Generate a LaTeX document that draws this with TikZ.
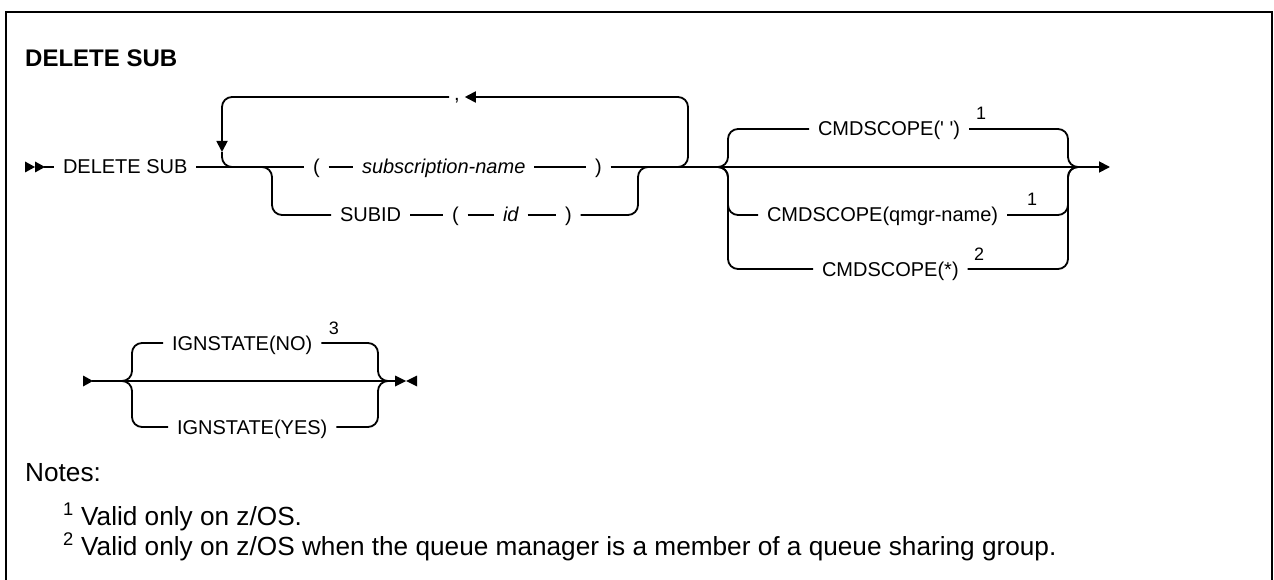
\documentclass[tikz,border=0pt]{standalone}
\usepackage{fontspec}
\setmainfont{Liberation Sans}
\usetikzlibrary{arrows.meta}

\begin{document}
\begin{tikzpicture}[
  x=1pt, y=-1pt,
  rail/.style={line width=1.8pt, rounded corners=10pt},
  arr/.style={-{Triangle[length=11pt, width=11pt]}},
  tok/.style={anchor=west, inner xsep=0pt, inner ysep=0pt, outer xsep=9pt,
    text height=14pt, text depth=0pt, font=\fontsize{20}{24}\selectfont},
  ital/.style={tok, font=\fontsize{20}{24}\selectfont\itshape},
  fnum/.style={inner sep=0pt, font=\fontsize{18}{20}\selectfont},
  notetxt/.style={anchor=base west, inner sep=0pt, font=\fontsize{26.2}{30}\selectfont},
  endtri/.style={fill=black},
]

\useasboundingbox (0,0) rectangle (1274,580);

% 外框（下边被截掉）
\draw[line width=2pt] (6,580) -- (6,12) -- (1272,12) -- (1272,580);

% 标题
\node[anchor=base west, inner sep=0pt, font=\fontsize{24}{28}\selectfont\bfseries]
  (title) at (25,67) {DELETE SUB};

% ---------- 第一张语法图 ----------
% 起点 ▶▶
\fill[endtri] (25,161.5) -- (35,167) -- (25,172.5) -- cycle;
\fill[endtri] (35,161.5) -- (45,167) -- (35,172.5) -- cycle;
\coordinate (st1) at (44,167);

% 主线上的记号
\node[tok]  (delsub) at (54,167)  {DELETE SUB};
\node[tok]  (lp1)    at (304,167) {(};
\node[ital] (sname)  at (353,167) {subscription-name};
\node[tok]  (rp1)    at (586,167) {)};
\coordinate (fin) at (1110,167);

\draw[rail] (st1) -- (delsub);
\draw[rail] (delsub) -- (lp1);
\draw[rail] (lp1) -- (sname);
\draw[rail] (sname) -- (rp1);
\draw[rail, arr] (rp1) -- (fin);

% 重复回路（逗号分隔）
\coordinate (loopL) at (222,167);
\coordinate (loopA) at (222,152);   % 向下箭头的尖
\coordinate (loopR) at (688,167);
\node[tok, anchor=center, outer xsep=5pt, text height=8pt] (comma) at (457,97) {,};

\draw[rail, arr] ([xshift=-20pt]loopR) -- (loopR) |- (comma);
\draw[rail, arr] (comma) -| (loopA);
\draw[rail] (loopA) -- (loopL) -- ([xshift=20pt]loopL);

% SUBID 分支
\coordinate (subL) at (272,167);
\coordinate (subR) at (638,167);
\node[tok]  (subid) at (331,215) {SUBID};
\node[tok]  (lp2)   at (443,215) {(};
\node[ital] (idn)   at (494,215) {id};
\node[tok]  (rp2)   at (556,215) {)};

\draw[rail] ([xshift=-20pt]subL) -- (subL) |- (subid);
\draw[rail] (subid) -- (lp2);
\draw[rail] (lp2) -- (idn);
\draw[rail] (idn) -- (rp2);
\draw[rail] (rp2) -| (subR) -- ([xshift=20pt]subR);

% CMDSCOPE 选项
\coordinate (cmdL) at (728,167);
\coordinate (cmdR) at (1068,167);
\node[tok] (cs1) at (809,129) {CMDSCOPE(\textquotesingle\ \textquotesingle)};
\node[tok] (cs2) at (758,215) {CMDSCOPE(qmgr-name)};
\node[tok] (cs3) at (813,269) {CMDSCOPE(*)};

\draw[rail] ([xshift=-20pt]cmdL) -- (cmdL) |- (cs1);
\draw[rail] ([xshift=-20pt]cmdL) -- (cmdL) |- (cs2);
\draw[rail] ([xshift=-20pt]cmdL) -- (cmdL) |- (cs3);
\draw[rail] (cs1) -| (cmdR) -- ([xshift=15pt]cmdR);
\draw[rail] (cs2) -| (cmdR) -- ([xshift=15pt]cmdR);
\draw[rail] (cs3) -| (cmdR) -- ([xshift=15pt]cmdR);

% 脚注编号
\node[fnum] (fa) at (981,113)  {1};
\node[fnum] (fb) at (1032,199) {1};
\node[fnum] (fc) at (979,254)  {2};

% ---------- 第二张语法图 ----------
% 起点 ▶
\fill[endtri] (83,375.5) -- (93,381) -- (83,386.5) -- cycle;
\coordinate (st2)  at (92,381);
\coordinate (ignL) at (132,381);
\coordinate (ignR) at (378,381);
\coordinate (end2) at (396,381);

\node[tok] (ig1) at (163,343) {IGNSTATE(NO)};
\node[tok] (ig2) at (168,427) {IGNSTATE(YES)};
\node[fnum] (fd) at (334,328) {3};

\draw[rail] (st2) -- (end2);
\draw[rail] ([xshift=-20pt]ignL) -- (ignL) |- (ig1);
\draw[rail] ([xshift=-20pt]ignL) -- (ignL) |- (ig2);
\draw[rail] (ig1) -| (ignR) -- ([xshift=15pt]ignR);
\draw[rail] (ig2) -| (ignR) -- ([xshift=15pt]ignR);

% 终点 ▶◀
\fill[endtri] (395,375.5) -- (406,381) -- (395,386.5) -- cycle;
\fill[endtri] (417,375.5) -- (406,381) -- (417,386.5) -- cycle;

% 注释
\node[notetxt] (notes) at (25,481) {Notes:};
\node[notetxt] (n1) at (63,525) {\textsuperscript{1} Valid only on z/OS.};
\node[notetxt] (n2) at (63,555)
  {\textsuperscript{2} Valid only on z/OS when the queue manager is a member of a queue sharing group.};

\end{tikzpicture}
\end{document}
